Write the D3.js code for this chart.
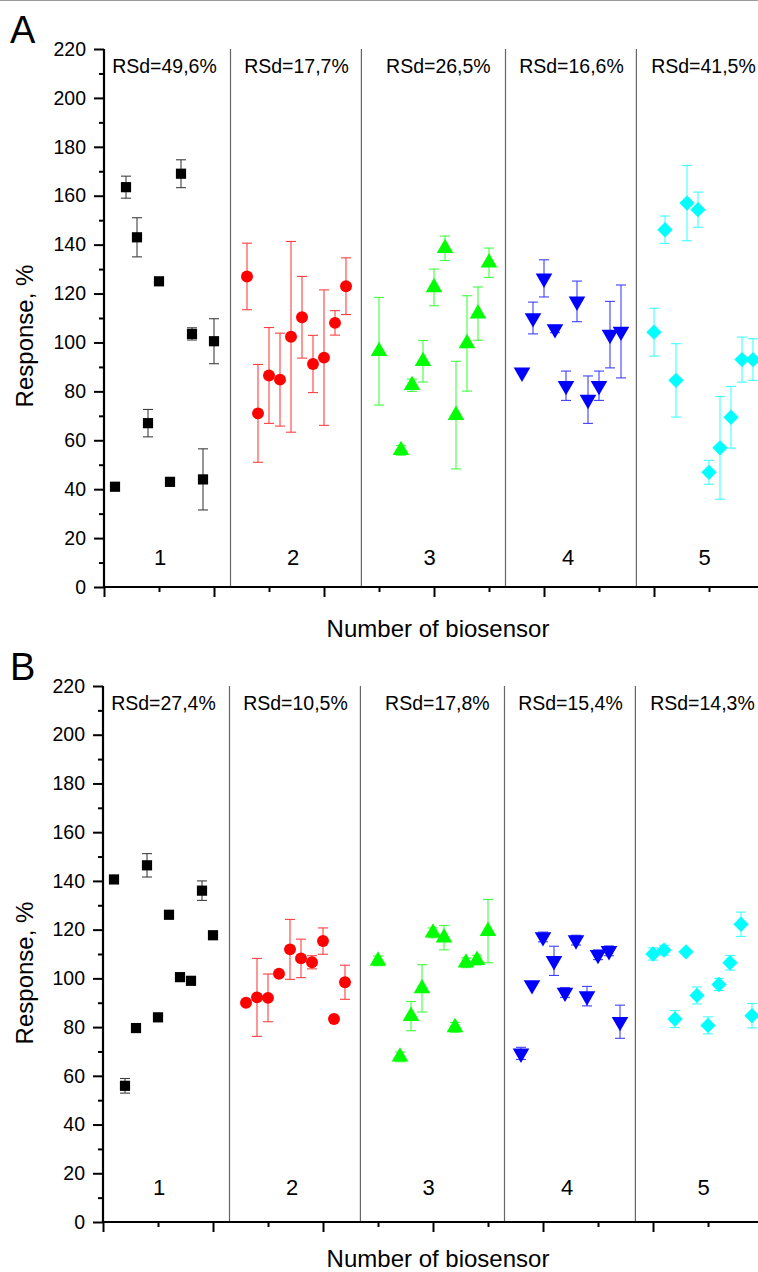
<!DOCTYPE html>
<html>
<head>
<meta charset="utf-8">
<script src="https://cdn.jsdelivr.net/npm/d3@7"></script>
<style>
  body { margin: 0; background: #fff; }
  svg { display: block; font-family: "Liberation Sans", Arial, sans-serif; }
</style>
</head>
<body>
<div id="chart"></div>
<script>
// position of every biosensor on the x axis (same in both panels)
var sensorPos = [
  [1, 2, 3, 4, 5, 6, 7, 8, 9, 10],
  [13, 14, 15, 16, 17, 18, 19, 20, 21, 22],
  [25, 27, 28, 29, 30, 31, 32, 33, 34, 35],
  [38, 39, 40, 41, 42, 43, 44, 45, 46, 47],
  [50, 51, 52, 53, 54, 55, 56, 57, 58, 59]
];
var groupNames = ["1", "2", "3", "4", "5"];
var groupColors = ["#000000", "#ff0000", "#00ff00", "#0000ff", "#00ffff"];
var dividerPos = [11.5, 23.4, 36.5, 48.4];
var yTicks = [0, 20, 40, 60, 80, 100, 120, 140, 160, 180, 200, 220];

// panel A
var rsdA = ["RSd=49,6%", "RSd=17,7%", "RSd=26,5%", "RSd=16,6%", "RSd=41,5%"];
var respA = [
  [41, 163.5, 143, 67, 125, 43, 169, 103.5, 44, 100.5],
  [127, 71, 86.5, 84.8, 102.3, 110.3, 91.2, 93.8, 108, 123],
  [96.4, 55.9, 82.5, 92.3, 122.5, 138.5, 70.3, 99.6, 111.8, 132.6],
  [87.8, 110, 126.2, 105.5, 82.3, 116.8, 76.6, 82.3, 103.2, 104.5],
  [104.2, 146.1, 84.5, 157, 154.3, 46.9, 56.9, 69.4, 93, 93]
];
var errA = [
  [0, 4.5, 8, 5.6, 1.5, 0, 5.7, 2.5, 12.5, 9.2],
  [13.6, 20, 19.6, 19, 39, 16.7, 11.7, 27.7, 5, 11.6],
  [22, 2, 2.5, 8.5, 7.5, 5, 22, 19.5, 10.9, 6],
  [0, 6.5, 7.6, 1.5, 6, 8.3, 9.7, 6, 13.6, 19],
  [9.8, 5.6, 15, 15.4, 7.2, 4.9, 21, 12.6, 9.2, 8.5]
];

// panel B
var rsdB = ["RSd=27,4%", "RSd=10,5%", "RSd=17,8%", "RSd=15,4%", "RSd=14,3%"];
var respB = [
  [140.6, 55.9, 79.6, 146.4, 84, 126.1, 100.5, 99, 136, 117.7],
  [90, 92.2, 92, 101.9, 111.9, 108.2, 106.6, 115.3, 83.3, 98.4],
  [107.2, 67.8, 84.5, 95.9, 118.7, 116.7, 79.9, 106.4, 107.5, 119.4],
  [69.2, 97.3, 117, 107.2, 94.2, 115.7, 92.7, 109.7, 111.3, 82.2],
  [110, 111.6, 83.3, 110.9, 93, 80.7, 97.5, 106.4, 122.2, 84.7]
];
var errB = [
  [1, 3, 1, 4.8, 1, 1, 1, 1, 4, 1],
  [0, 16, 9.8, 0, 12.3, 7.9, 2.7, 5.4, 0, 7],
  [2, 2, 6, 9.7, 2, 5, 2, 2, 2, 13],
  [2.5, 0, 2, 6, 2, 2, 4, 2, 2, 6.8],
  [2.5, 2, 3.5, 0, 3.5, 3.5, 2.5, 3, 5, 5]
];

var width = 758, height = 1272;

var svg = d3.select("#chart").append("svg")
    .attr("width", width)
    .attr("height", height);

svg.append("rect").attr("width", width).attr("height", height).attr("fill", "#fff");
svg.append("line")
    .attr("x1", 0).attr("x2", width).attr("y1", 0.5).attr("y2", 0.5)
    .attr("stroke", "#999").attr("stroke-width", 1);

// marker shapes per group
var shapes = [d3.symbolSquare, d3.symbolCircle, d3.symbolTriangle, d3.symbolTriangle, d3.symbolSquare];
var shapeRot = [0, 0, 0, 180, 45];
var shapeSize = [104, 112, 120, 120, 118];
var numLabelPos = [5.1, 17.2, 29.6, 42.2, 54.6];

function drawPanel(letter, left, top, bottom, rsd, resp, err, numY, titleY) {
    var x = d3.scaleLinear().domain([0, 61]).range([left, left + 671]);
    var y = d3.scaleLinear().domain([0, 220]).range([bottom, top]);
    var g = svg.append("g");

    // group dividers
    g.selectAll(".div").data(dividerPos).enter().append("line")
        .attr("x1", d => x(d)).attr("x2", d => x(d))
        .attr("y1", y(220)).attr("y2", y(0))
        .attr("stroke", "#666").attr("stroke-width", 1.2);

    // y axis
    var yAxis = d3.axisLeft(y).tickValues(yTicks).tickSize(10).tickPadding(8);
    var ya = g.append("g").attr("transform", "translate(" + left + ",0)").call(yAxis);
    ya.select(".domain").remove();
    ya.selectAll("line").attr("stroke", "#000").attr("stroke-width", 2);
    ya.selectAll("text").attr("font-size", 19.5).attr("fill", "#000")
        .attr("font-family", "'Liberation Sans', Arial, sans-serif");
    var yMinor = d3.axisLeft(y).tickValues(d3.range(10, 220, 20)).tickSize(5).tickFormat("");
    var ym = g.append("g").attr("transform", "translate(" + left + ",0)").call(yMinor);
    ym.select(".domain").remove();
    ym.selectAll("line").attr("stroke", "#000").attr("stroke-width", 2);

    // x axis (no labels)
    var xAxis = d3.axisBottom(x).tickValues(d3.range(0, 61, 10)).tickSize(10).tickFormat("");
    var xa = g.append("g").attr("transform", "translate(0," + bottom + ")").call(xAxis);
    xa.select(".domain").remove();
    xa.selectAll("line").attr("stroke", "#000").attr("stroke-width", 2);
    var xMinor = d3.axisBottom(x).tickValues(d3.range(5, 61, 10)).tickSize(5).tickFormat("");
    var xm = g.append("g").attr("transform", "translate(0," + bottom + ")").call(xMinor);
    xm.select(".domain").remove();
    xm.selectAll("line").attr("stroke", "#000").attr("stroke-width", 2);

    g.append("line").attr("x1", left).attr("x2", width).attr("y1", bottom).attr("y2", bottom)
        .attr("stroke", "#000").attr("stroke-width", 2.2);
    g.append("line").attr("x1", left).attr("x2", left).attr("y1", top).attr("y2", bottom + 1)
        .attr("stroke", "#000").attr("stroke-width", 2.2);

    // points
    resp.forEach(function (vals, gi) {
        var pts = vals.map(function (v, i) {
            return { x: sensorPos[gi][i], v: v, e: err[gi][i] };
        });
        var col = groupColors[gi];
        var eb = g.append("g").attr("stroke", col).attr("stroke-width", 1.1).attr("opacity", 0.75);
        pts.filter(d => d.e > 0).forEach(function (d) {
            var cx = x(d.x);
            eb.append("line").attr("x1", cx).attr("x2", cx).attr("y1", y(d.v + d.e)).attr("y2", y(d.v - d.e));
            eb.append("line").attr("x1", cx - 5).attr("x2", cx + 5).attr("y1", y(d.v + d.e)).attr("y2", y(d.v + d.e));
            eb.append("line").attr("x1", cx - 5).attr("x2", cx + 5).attr("y1", y(d.v - d.e)).attr("y2", y(d.v - d.e));
        });
        g.selectAll(".pt" + gi).data(pts).enter().append("path")
            .attr("d", d3.symbol().type(shapes[gi]).size(shapeSize[gi]))
            .attr("transform", d => "translate(" + x(d.x) + "," + y(d.v) + ") rotate(" + shapeRot[gi] + ")")
            .attr("fill", col);
    });

    // RSd texts
    g.selectAll(".rsd").data(rsd).enter().append("text")
        .attr("x", (d, i) => x(d3.mean(sensorPos[i])))
        .attr("y", top + 24)
        .attr("text-anchor", "middle")
        .attr("font-size", 19.5)
        .text(d => d);

    // group numbers
    g.selectAll(".num").data(groupNames).enter().append("text")
        .attr("x", (d, i) => x(numLabelPos[i]))
        .attr("y", numY)
        .attr("text-anchor", "middle")
        .attr("font-size", 22)
        .text(d => d);

    // axis titles
    g.append("text")
        .attr("transform", "translate(33," + (top + 287) + ") rotate(-90)")
        .attr("text-anchor", "middle")
        .attr("font-size", 24)
        .text("Response, %");
    g.append("text")
        .attr("x", 438).attr("y", titleY)
        .attr("text-anchor", "middle")
        .attr("font-size", 24)
        .text("Number of biosensor");

    svg.append("text")
        .attr("x", 10).attr("y", top - 6)
        .attr("font-size", 38)
        .text(letter);
}

drawPanel("A", 104, 49, 587, rsdA, respA, errA, 565, 637);
drawPanel("B", 103, 686, 1222, rsdB, respB, errB, 1195, 1267);
</script>
</body>
</html>
